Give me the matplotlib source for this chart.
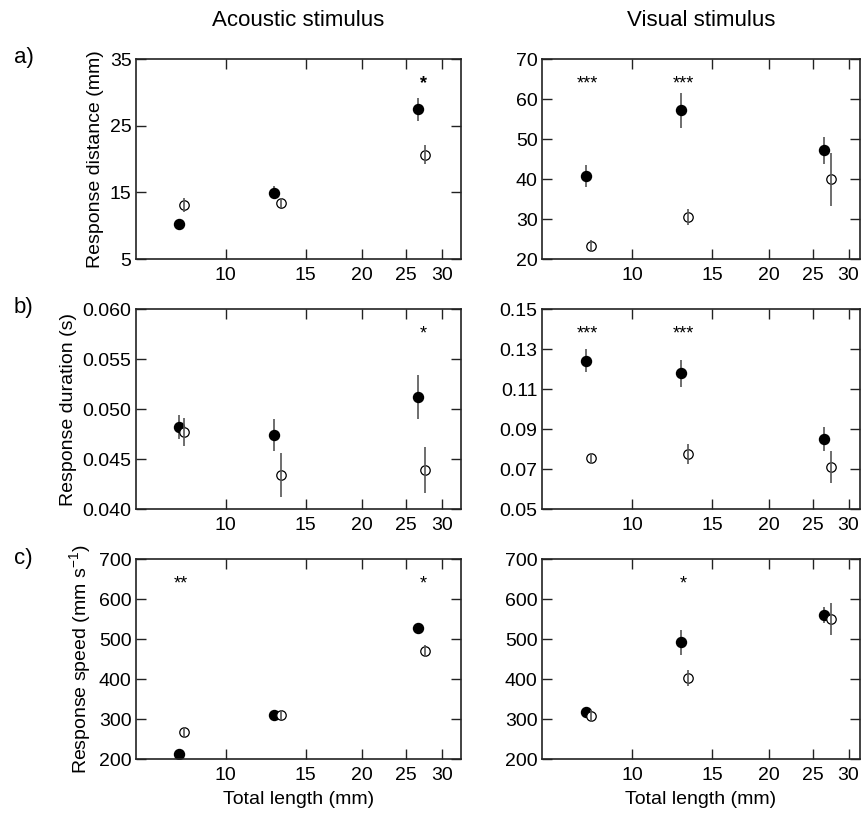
import matplotlib
matplotlib.use("Agg")
import matplotlib.pyplot as plt
from matplotlib.ticker import FixedLocator, FixedFormatter, NullLocator
import matplotlib.transforms as mtransforms

plt.rcParams['font.family'] = ['Liberation Sans', 'DejaVu Sans']
plt.rcParams['mathtext.default'] = 'regular'

# ---------------- data ----------------
x_filled = [7.9, 12.8, 26.5]
x_open = [8.1, 13.25, 27.5]
x_ticks = [10, 15, 20, 25, 30]

# Acoustic stimulus
ac_dist_f = [10.2, 14.95, 27.45]
ac_dist_f_err = [0.4, 1.0, 1.7]
ac_dist_o = [13.1, 13.4, 20.65]
ac_dist_o_err = [1.1, 0.75, 1.45]

ac_dur_f = [0.0482, 0.0474, 0.0512]
ac_dur_f_err = [0.0012, 0.0016, 0.0022]
ac_dur_o = [0.0477, 0.0434, 0.0439]
ac_dur_o_err = [0.00143, 0.0022, 0.0023]

ac_spd_f = [212, 311, 528]
ac_spd_f_err = [5, 10, 12]
ac_spd_o = [267, 310, 471]
ac_spd_o_err = [14, 12, 15]

# Visual stimulus
vi_dist_f = [40.7, 57.2, 47.2]
vi_dist_f_err = [2.7, 4.4, 3.4]
vi_dist_o = [23.3, 30.5, 39.9]
vi_dist_o_err = [1.5, 2.1, 6.7]

vi_dur_f = [0.1242, 0.1178, 0.0852]
vi_dur_f_err = [0.0057, 0.0067, 0.006]
vi_dur_o = [0.0753, 0.0773, 0.0708]
vi_dur_o_err = [0.0027, 0.005, 0.008]

vi_spd_f = [318, 492, 560]
vi_spd_f_err = [8, 31, 19]
vi_spd_o = [307, 402, 550]
vi_spd_o_err = [15, 20, 39]

# significance labels (one per size group)
star_x = [7.95, 12.95, 27.3]
ac_dist_stars = ['', '', '*']
ac_dur_stars = ['', '', '*']
ac_spd_stars = ['**', '', '*']
vi_dist_stars = ['***', '***', '']
vi_dur_stars = ['***', '***', '']
vi_spd_stars = ['', '*', '']

ylims = [(5, 35), (20, 70), (0.040, 0.060), (0.05, 0.15), (200, 700), (200, 700)]
yticks = [[5, 15, 25, 35], [20, 30, 40, 50, 60, 70],
          [0.040, 0.045, 0.050, 0.055, 0.060],
          [0.05, 0.07, 0.09, 0.11, 0.13, 0.15],
          [200, 300, 400, 500, 600, 700], [200, 300, 400, 500, 600, 700]]
yfmt = ['{:.0f}', '{:.0f}', '{:.3f}', '{:.2f}', '{:.0f}', '{:.0f}']
ylabels = ['Response distance (mm)', None, 'Response duration (s)', None,
           'Response speed (mm s$^{-1}$)', None]
col_titles = ['Acoustic stimulus', 'Visual stimulus']
row_labels = ['a)', 'b)', 'c)']
xlabel = 'Total length (mm)'

panels = [
    (ac_dist_f, ac_dist_f_err, ac_dist_o, ac_dist_o_err, ac_dist_stars),
    (vi_dist_f, vi_dist_f_err, vi_dist_o, vi_dist_o_err, vi_dist_stars),
    (ac_dur_f, ac_dur_f_err, ac_dur_o, ac_dur_o_err, ac_dur_stars),
    (vi_dur_f, vi_dur_f_err, vi_dur_o, vi_dur_o_err, vi_dur_stars),
    (ac_spd_f, ac_spd_f_err, ac_spd_o, ac_spd_o_err, ac_spd_stars),
    (vi_spd_f, vi_spd_f_err, vi_spd_o, vi_spd_o_err, vi_spd_stars),
]

# ---------------- figure ----------------
W, H = 862, 813
fig = plt.figure(figsize=(W / 100, H / 100), dpi=100)

col_left = [135.7, 541.7]
col_width = [325.0, 318.3]
col_xlim = [(6.33, 33.0), (6.32, 31.8)]
row_top = [59, 309, 559]
ax_h = 200

errc = '#555555'
axes = []
for i, (yf, yfe, yo, yoe, stars) in enumerate(panels):
    r, c = divmod(i, 2)
    left = col_left[c] / W
    bottom = 1 - (row_top[r] + ax_h) / H
    ax = fig.add_axes([left, bottom, col_width[c] / W, ax_h / H])
    axes.append(ax)
    ax.set_xscale('log')
    ax.set_xlim(*col_xlim[c])
    ax.set_ylim(*ylims[i])

    ax.errorbar(x_filled, yf, yerr=yfe, fmt='o', color='black', ms=7.2,
                ecolor=errc, elinewidth=1.2, capsize=0, zorder=2)
    ax.plot(x_open, yo, 'o', ms=6.8, mfc='white', mec='black', mew=0.9,
            zorder=3, linestyle='none')
    ax.errorbar(x_open, yo, yerr=yoe, fmt='none', ecolor=errc,
                elinewidth=1.2, capsize=0, zorder=4)

    trans = mtransforms.blended_transform_factory(ax.transData, ax.transAxes)
    for sx, s in zip(star_x, stars):
        if s:
            bold = (i == 0)
            ax.text(sx, 0.875, s, transform=trans, ha='center', va='center',
                    fontsize=13, fontweight='bold' if bold else 'normal')

    ax.xaxis.set_major_locator(FixedLocator(x_ticks))
    ax.xaxis.set_major_formatter(FixedFormatter([str(t) for t in x_ticks]))
    ax.xaxis.set_minor_locator(NullLocator())
    ax.set_yticks(yticks[i])
    ax.set_yticklabels([yfmt[i].format(t) for t in yticks[i]])
    ax.yaxis.set_minor_locator(NullLocator())
    ax.tick_params(direction='in', top=True, right=True, length=7, width=1.0,
                   labelsize=14, color='#222222')
    ax.tick_params(axis='y', pad=3)
    ax.tick_params(axis='x', pad=6)
    for sp in ax.spines.values():
        sp.set_linewidth(1.2)
        sp.set_color('#222222')

    if ylabels[i]:
        ax.set_ylabel(ylabels[i], fontsize=14, labelpad=4)
    if r == 2:
        ax.set_xlabel(xlabel, fontsize=14, labelpad=5)

# column titles
for c in range(2):
    cx = (col_left[c] + col_width[c] / 2) / W
    fig.text(cx, 1 - 20 / H, col_titles[c], ha='center', va='center', fontsize=16)

# row labels
for r in range(3):
    fig.text(14 / W, 1 - (row_top[r] - 1) / H, row_labels[r], ha='left',
             va='center', fontsize=16)

fig.savefig('out.png', dpi=100)
